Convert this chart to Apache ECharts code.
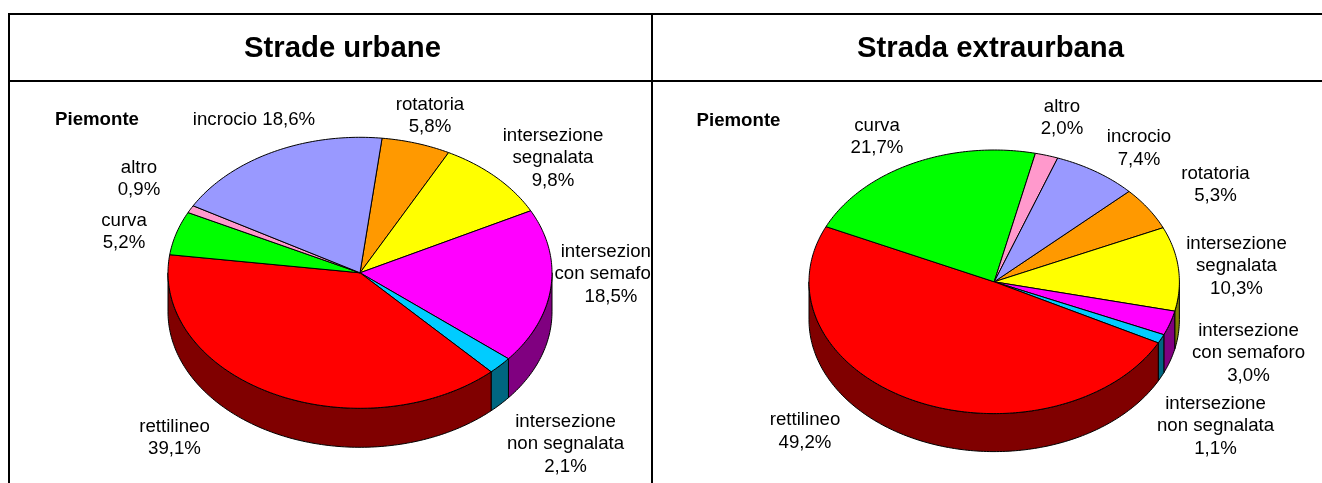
<!DOCTYPE html>
<html>
<head>
<meta charset="utf-8">
<title>Strade urbane / Strada extraurbana</title>
<script src="https://cdn.jsdelivr.net/npm/echarts@6/dist/echarts.min.js"></script>
<style>
html, body { margin: 0; padding: 0; background: #fff; }
#urbane, #extraurbana { position: absolute; top: 0; height: 483px; }
#urbane { left: 0; width: 651px; }
#extraurbana { left: 651px; width: 671px; }
</style>
</head>
<body>
<div id="urbane"></div>
<div id="extraurbana"></div>
<script>
var categories = [
    'rotatoria',
    'intersezione\nsegnalata',
    'intersezione\ncon semaforo',
    'intersezione\nnon segnalata',
    'rettilineo',
    'curva',
    'altro',
    'incrocio'
];
var urbaneValues = [5.8, 9.8, 18.5, 2.1, 39.1, 5.2, 0.9, 18.6];
var extraurbanaValues = [5.3, 10.3, 3.0, 1.1, 49.2, 21.7, 2.0, 7.4];

var topColors = ['#ff9900', '#ffff00', '#ff00ff', '#00ccff', '#ff0000', '#00ff00', '#ff99cc', '#9999ff'];
var sideColors = ['#804d00', '#808000', '#800080', '#006680', '#800000', '#008000', '#804d66', '#4d4d80'];

var fontFamily = '"Liberation Sans", Arial, sans-serif';

// page coordinates of the label centres, same order as categories
var urbaneLabels = [[430, 116], [553, 158], [611, 274], [565.5, 444], [174.5, 438], [124, 232], [139, 179], [254, 120]];
var extraurbanaLabels = [[1215.5, 185], [1236.5, 266], [1248.5, 353], [1215.5, 426], [805, 431.5], [877, 137], [1062, 118], [1139, 148.5]];

function formatPercent(v) {
    return v.toFixed(1).replace('.', ',') + '%';
}

function ellipsePoint(pie, deg, dy) {
    var t = deg * Math.PI / 180;
    return [pie.cx + pie.rx * Math.sin(t), pie.cy - pie.ry * Math.cos(t) + dy];
}

function arcPoints(pie, from, to, dy) {
    var points = [];
    var steps = Math.max(2, Math.ceil(Math.abs(to - from)));
    for (var i = 0; i <= steps; i++) {
        points.push(ellipsePoint(pie, from + (to - from) * i / steps, dy));
    }
    return points;
}

function makeChart(domId, pie) {
    var chart = echarts.init(document.getElementById(domId));
    var ox = pie.offsetX;
    var total = pie.values.reduce(function (a, b) { return a + b; }, 0);

    function renderSlice(params, api) {
        var i = params.dataIndex;
        var before = 0;
        for (var k = 0; k < i; k++) before += pie.values[k];
        var from = pie.startAngle + before / total * 360;
        var to = from + api.value(0) / total * 360;
        var children = [];
        var lineStyle = { stroke: '#000', lineWidth: 1, lineJoin: 'round' };

        // rim, only the front half of the disc shows
        var sideFrom = Math.max(from, 90);
        var sideTo = Math.min(to, 270);
        if (sideTo > sideFrom) {
            children.push({
                type: 'polygon',
                z2: 1,
                shape: { points: arcPoints(pie, sideFrom, sideTo, 0).concat(arcPoints(pie, sideTo, sideFrom, pie.depth)) },
                style: Object.assign({ fill: sideColors[i] }, lineStyle)
            });
        }
        children.push({
            type: 'polygon',
            z2: 2,
            shape: { points: [[pie.cx, pie.cy]].concat(arcPoints(pie, from, to, 0)) },
            style: Object.assign({ fill: topColors[i] }, lineStyle)
        });
        children.push({
            type: 'text',
            z2: 3,
            style: {
                x: pie.labels[i][0] - ox,
                y: pie.labels[i][1],
                text: categories[i] + (pie.inlineLabel === i ? ' ' : '\n') + formatPercent(api.value(0)),
                align: 'center',
                verticalAlign: 'middle',
                lineHeight: 22.5,
                fill: '#000',
                font: '18.67px ' + fontFamily
            }
        });
        return { type: 'group', children: children };
    }

    chart.setOption({
        animation: false,
        graphic: pie.graphic,
        series: [{
            type: 'custom',
            coordinateSystem: 'none',
            silent: true,
            renderItem: renderSlice,
            data: pie.values.map(function (v) { return [v]; })
        }]
    });
    return chart;
}

function headerText(text, x) {
    return {
        type: 'text',
        style: { x: x, y: 49, text: text, align: 'center', verticalAlign: 'middle', fill: '#000', font: 'bold 29.3px ' + fontFamily }
    };
}

function piemonteText(x, y) {
    return {
        type: 'text',
        style: { x: x, y: y, text: 'Piemonte', align: 'center', verticalAlign: 'middle', fill: '#000', font: 'bold 18.67px ' + fontFamily }
    };
}

function rule(x1, y1, x2, y2) {
    return { type: 'line', z: 10, shape: { x1: x1, y1: y1, x2: x2, y2: y2 }, style: { stroke: '#000', lineWidth: 2 } };
}

makeChart('urbane', {
    offsetX: 0,
    cx: 360, cy: 272.8, rx: 192, ry: 135.5, depth: 39,
    startAngle: 6.6,
    values: urbaneValues,
    labels: urbaneLabels,
    inlineLabel: 7,
    graphic: [
        rule(8, 14, 651, 14),
        rule(8, 81, 651, 81),
        rule(9, 13, 9, 483),
        headerText('Strade urbane', 342.5),
        piemonteText(97, 120)
    ]
});

makeChart('extraurbana', {
    offsetX: 651,
    cx: 994.2 - 651, cy: 281.8, rx: 185.2, ry: 131.8, depth: 38,
    startAngle: 46.7,
    values: extraurbanaValues,
    labels: extraurbanaLabels,
    inlineLabel: -1,
    graphic: [
        rule(0, 14, 671, 14),
        rule(0, 81, 671, 81),
        rule(1, 13, 1, 483),
        headerText('Strada extraurbana', 990.5 - 651),
        piemonteText(738.5 - 651, 121)
    ]
});
</script>
</body>
</html>
